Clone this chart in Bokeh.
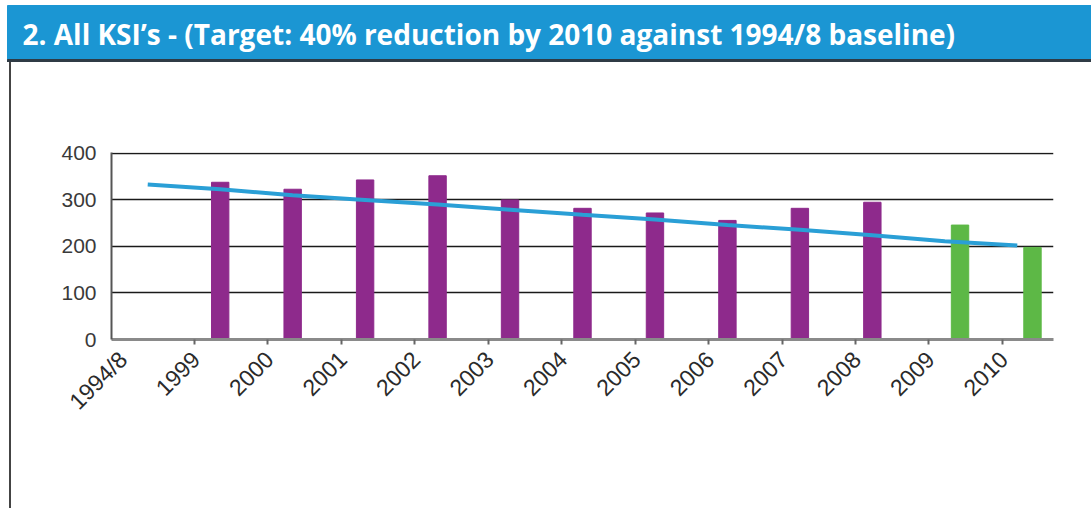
import math
from bokeh.plotting import figure
from bokeh.layouts import column, row
from bokeh.models import (Range1d, FixedTicker, ColumnDataSource,
                          CustomJSTickFormatter, LinearAxis, Div, Spacer)
from bokeh.core.properties import value
from bokeh.embed import file_html
from bokeh.resources import INLINE

# ---- data ----
categories = ["1994/8", "1999", "2000", "2001", "2002", "2003", "2004",
              "2005", "2006", "2007", "2008", "2009", "2010"]
actual_years = ["1999", "2000", "2001", "2002", "2003", "2004", "2005",
                "2006", "2007", "2008"]
actual_ksi = [338, 323, 343, 352, 300, 282, 272, 256, 282, 295]
recent_years = ["2009", "2010"]
recent_ksi = [246, 198]
target_ksi = [333, 323, 310, 300, 290, 279, 268, 258, 246, 236, 224, 211, 202]
y_ticks = [0, 100, 200, 300, 400]
title_text = "2. All KSI\u2019s - (Target: 40% reduction by 2010 against 1994/8 baseline)"

# ---- styles ----
PURPLE = "#8E2A8C"
GREEN = "#5DB846"
LINE_BLUE = "#2A9FD6"
BANNER = "#1B96D3"

W, H = 1091, 508
BANNER_H = 62
STRIP_W = 12
CW, CH = W - STRIP_W, H - BANNER_H
FL, FR, FT, FB = 111, 1053, 152, 339          # frame in page pixels
YMAX = 402

# ---- banner ----
banner = figure(width=W, height=BANNER_H, output_backend="svg",
                toolbar_location=None, x_range=Range1d(0, W),
                y_range=Range1d(BANNER_H, 0), x_axis_location=None,
                y_axis_location=None, min_border=0, outline_line_color=None,
                background_fill_color="white", border_fill_color="white",
                margin=0)
banner.grid.visible = False
banner.quad(left=[7], right=[W], top=[5], bottom=[59], color=BANNER)
banner.quad(left=[7], right=[W], top=[59], bottom=[62], color="#2f3b45")
banner.text(x=[22], y=[33], text=[title_text], text_color="white",
            text_font=value("Open Sans"), text_font_style="bold",
            text_font_size="28px", text_baseline="middle")

# ---- left border strip ----
strip = row(Spacer(width=9, height=CH, margin=0),
            Div(width=2, height=CH, margin=0,
                styles={"background-color": "#444444"}),
            Spacer(width=1, height=CH, margin=0), spacing=0, margin=0)

# ---- chart ----
def cpos(name):
    return categories.index(name) + 0.5

p = figure(width=CW, height=CH, output_backend="svg", toolbar_location=None,
           x_range=Range1d(0, len(categories)), y_range=Range1d(0, YMAX),
           min_border_left=FL - STRIP_W, min_border_right=W - FR,
           min_border_top=FT - BANNER_H, min_border_bottom=H - FB,
           outline_line_color=None, background_fill_color="white",
           border_fill_color="white", margin=0)

src_a = ColumnDataSource(dict(x=[cpos(c) for c in actual_years], top=actual_ksi))
src_r = ColumnDataSource(dict(x=[cpos(c) + 0.21 for c in recent_years], top=recent_ksi))
p.vbar(x="x", top="top", width=0.24, source=src_a, color=PURPLE)
p.vbar(x="x", top="top", width=0.24, source=src_r, color=GREEN)

src_t = ColumnDataSource(dict(x=[cpos(c) for c in categories], y=target_ksi))
p.line(x="x", y="y", source=src_t, line_color=LINE_BLUE, line_width=4)

# y axis
p.yaxis.ticker = FixedTicker(ticks=y_ticks)
p.yaxis.axis_line_color = "#555555"
p.yaxis.axis_line_width = 2
p.yaxis.major_tick_line_color = None
p.yaxis.minor_tick_line_color = None
p.yaxis.major_label_standoff = 9
p.yaxis.major_label_text_font = "Liberation Sans"
p.yaxis.major_label_text_font_size = "21px"
p.yaxis.major_label_text_color = "#3a3a3a"

p.ygrid.ticker = FixedTicker(ticks=y_ticks)
p.ygrid.grid_line_color = "#1a1a1a"
p.ygrid.grid_line_width = 1.5
p.xgrid.grid_line_color = None

# x axis: tick marks only
tick_pos = [1.145 + 1.0136 * (i - 1) for i in range(1, len(categories))]
p.xaxis.ticker = FixedTicker(ticks=tick_pos)
p.xaxis.formatter = CustomJSTickFormatter(code="return '';")
p.xaxis.axis_line_color = "#8a8a8a"
p.xaxis.axis_line_width = 3
p.xaxis.major_tick_line_color = "#666666"
p.xaxis.major_tick_line_width = 2
p.xaxis.major_tick_in = 0
p.xaxis.major_tick_out = 5
p.xaxis.minor_tick_line_color = None
p.xaxis.major_label_standoff = 0

# x axis: category labels
label_pos = [0.16] + [t + 0.02 for t in tick_pos]
lab_axis = LinearAxis(ticker=FixedTicker(ticks=label_pos),
                      formatter=CustomJSTickFormatter(args=dict(labels=categories),
                                                      code="return labels[index];"),
                      axis_line_color=None, major_tick_line_color=None,
                      minor_tick_line_color=None, major_tick_in=0,
                      major_tick_out=0, major_label_standoff=11,
                      major_label_orientation=math.pi / 4,
                      major_label_text_font="Liberation Sans",
                      major_label_text_font_size="23px",
                      major_label_text_color="#2a2a2a")
p.add_layout(lab_axis, "below")

layout = column(banner, row(strip, p, spacing=0, margin=0), spacing=0, margin=0)
open("out.html", "w").write(file_html(layout, INLINE))
